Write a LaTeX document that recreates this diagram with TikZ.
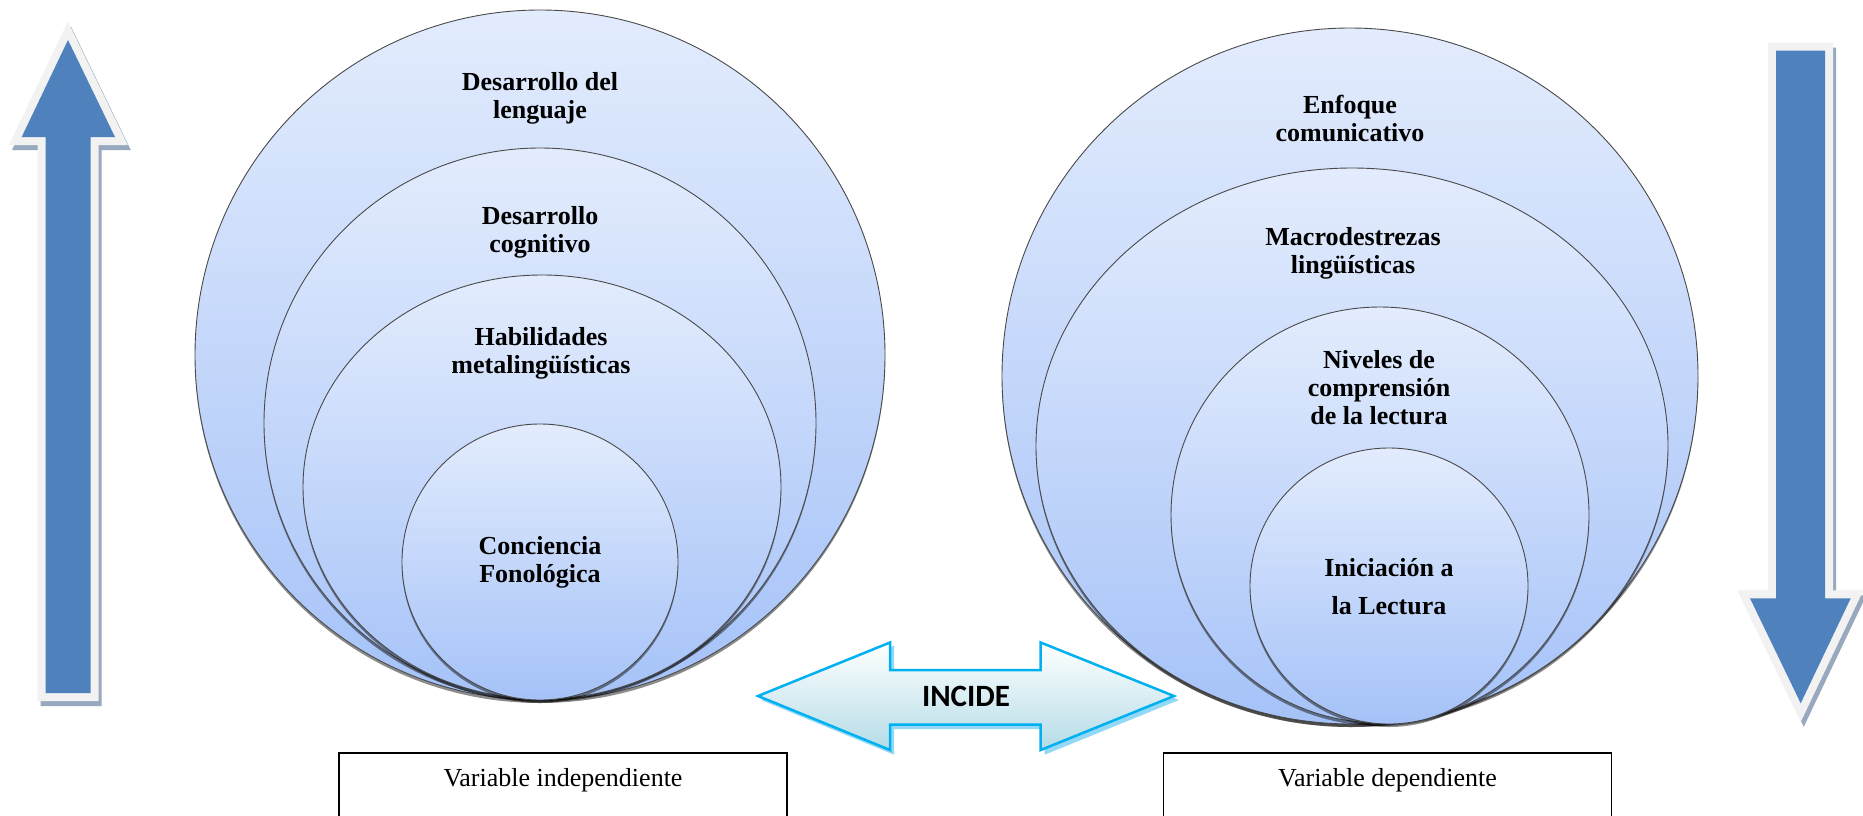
\documentclass[tikz,border=0pt]{standalone}
\usepackage{fontspec}
\setmainfont{Liberation Serif}
\newfontfamily\calibri{Carlito}
\usetikzlibrary{shadows}
\definecolor{arrowblue}{HTML}{4F81BD}
\definecolor{arrowrim}{HTML}{F2F2F2}
\definecolor{arrowshadow}{HTML}{98A8BE}
\definecolor{ctop}{HTML}{E3ECFD}
\definecolor{cbot}{HTML}{A5C2F8}
\definecolor{cedge}{HTML}{4A4A4A}
\definecolor{incline}{HTML}{00B0F0}
\definecolor{incshadow}{HTML}{93D9F6}
\definecolor{incbot}{HTML}{B4DCE7}
\begin{document}
\begin{tikzpicture}[x=1pt,y=-1pt,
  bubble/.style={draw=cedge, line width=0.9pt, top color=ctop, bottom color=cbot,
    drop shadow={shadow xshift=0pt, shadow yshift=-3pt, fill=black, opacity=0.45}},
  bubbletext/.style={font=\bfseries\fontsize{26}{28}\selectfont, align=center, inner sep=0pt},
  rimline/.style={draw=arrowrim, fill=arrowrim, line width=16pt, line join=miter},
  rimshadow/.style={draw=arrowshadow, fill=arrowshadow, line width=16pt, line join=miter},
  bluefill/.style={fill=arrowblue},
  varbox/.style={draw=black, line width=1.5pt},
  vartext/.style={font=\fontsize{26}{30}\selectfont, inner sep=0pt, anchor=base}]
\useasboundingbox (0,0) rectangle (1863,815);
\fill[white] (0,0) rectangle (1863,815);
\clip (0,0) rectangle (1863,815);

% ---- up arrow (left)
\path[rimshadow] (71,45) -- (118,142) -- (93.7,142) -- (93.7,698) -- (48.7,698) -- (48.7,142) -- (24.7,142) -- cycle;
\path[rimline] (68,40) -- (115,137) -- (90.7,137) -- (90.7,693) -- (45.7,693) -- (45.7,137) -- (21.7,137) -- cycle;
\path[bluefill] (68,40) -- (115,137) -- (90.7,137) -- (90.7,693) -- (45.7,693) -- (45.7,137) -- (21.7,137) -- cycle;

% ---- down arrow (right)
\path[rimshadow] (1779,55.7) -- (1828,55.7) -- (1828,603.3) -- (1853.7,603.3) -- (1803.7,708.3) -- (1753,603.3) -- (1779,603.3) -- cycle;
\path[rimline] (1776,50.7) -- (1825,50.7) -- (1825,598.3) -- (1850.7,598.3) -- (1800.7,703.3) -- (1750,598.3) -- (1776,598.3) -- cycle;
\path[bluefill] (1776,50.7) -- (1825,50.7) -- (1825,598.3) -- (1850.7,598.3) -- (1800.7,703.3) -- (1750,598.3) -- (1776,598.3) -- cycle;

% ---- left nested circles
\path[bubble] (540,355) ellipse [x radius=345pt, y radius=345pt];
\path[bubble] (540,423) ellipse [x radius=276pt, y radius=275pt];
\path[bubble] (542,487) ellipse [x radius=239pt, y radius=212pt];
\path[bubble] (540,562) ellipse [x radius=138pt, y radius=138pt];
\node[bubbletext] (l1) at (540,98) {Desarrollo del\\lenguaje};
\node[bubbletext] (l2) at (540,232) {Desarrollo\\cognitivo};
\node[bubbletext] (l3) at (541,353) {Habilidades\\metalingüísticas};
\node[bubbletext] (l4) at (540,562) {Conciencia\\Fonológica};

% ---- right nested circles
\path[bubble] (1350,376) ellipse [x radius=348pt, y radius=348pt];
\path[bubble] (1352,446) ellipse [x radius=316pt, y radius=278pt];
\path[bubble] (1380,515) ellipse [x radius=209pt, y radius=208pt];
\path[bubble] (1389,586) ellipse [x radius=139pt, y radius=138pt];
\node[bubbletext] (r1) at (1350,118) {Enfoque\\comunicativo};
\node[bubbletext] (r2) at (1353,253) {Macrodestrezas\\lingüísticas};
\node[bubbletext] (r3) at (1379,388) {Niveles de\\comprensión\\de la lectura};
\node[bubbletext, font=\bfseries\fontsize{26}{38}\selectfont] (r4) at (1389,587) {Iniciación a\\la Lectura};

% ---- INCIDE double arrow
\fill[incshadow] (761,700) -- (894,645.7) -- (894,673.3) -- (1044.7,673.3) -- (1044.7,645.7) -- (1179,700) -- (1044.7,754.7) -- (1044.7,729) -- (894,729) -- (894,754.7) -- cycle;
\path[draw=incline, line width=2.5pt, top color=white, bottom color=incbot, line join=miter]
  (758,696) -- (890,642.5) -- (890,670) -- (1040.7,670) -- (1040.7,642.5) -- (1174,696) -- (1040.7,750) -- (1040.7,724.5) -- (890,724.5) -- (890,750) -- cycle;
\node[font=\calibri\bfseries\fontsize{31}{36}\selectfont, inner sep=0pt] (incide) at (966,696) {INCIDE};

% ---- variable boxes
\coordinate (vi-bl) at (339,830);
\coordinate (vi-tr) at (787,753);
\draw[varbox] (vi-bl) |- (vi-tr) -- (787,830);
\node[vartext] (vi) at (563,786.5) {Variable independiente};
\coordinate (vd-bl) at (1163.5,830);
\coordinate (vd-tr) at (1611.5,753);
\draw[varbox] (vd-bl) |- (vd-tr) -- (1611.5,830);
\node[vartext] (vd) at (1387.5,786.5) {Variable dependiente};
\end{tikzpicture}
\end{document}
